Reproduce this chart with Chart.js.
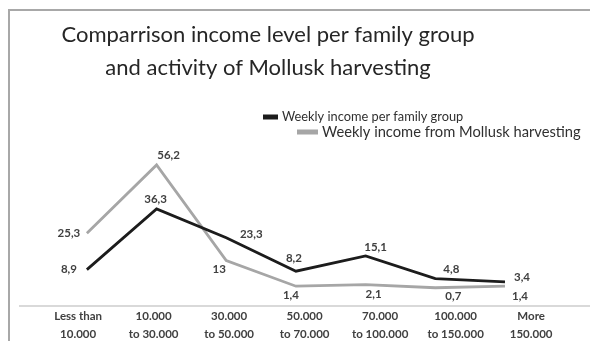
<!DOCTYPE html>
<html>
<head>
<meta charset="utf-8">
<script src="https://cdn.jsdelivr.net/npm/chart.js@4.4.1/dist/chart.umd.min.js"></script>
<style>
  html, body { margin: 0; padding: 0; background: #fff; }
  #wrap { position: relative; width: 590px; height: 341px; overflow: hidden; }
  #frame { position: absolute; left: 8px; top: 9px; width: 700px; height: 400px;
           border-top: 2px solid #a8a8a8; border-left: 2px solid #a8a8a8; }
  #incomeChart { position: absolute; left: 0; top: 0; }
</style>
</head>
<body>
<div id="wrap">
  <div id="frame"></div>
  <canvas id="incomeChart" width="590" height="341"></canvas>
</div>
<script>
const categories = [
  ['Less than', '10.000'],
  ['10.000', 'to 30.000'],
  ['30.000', 'to 50.000'],
  ['50.000', 'to 70.000'],
  ['70.000', 'to 100.000'],
  ['100.000', 'to 150.000'],
  ['More', '150.000']
];
const familyIncome = [8.9, 36.3, 23.3, 8.2, 15.1, 4.8, 3.4];
const molluskIncome = [25.3, 56.2, 13, 1.4, 2.1, 0.7, 1.4];
const seriesNames = ['Weekly income per family group', 'Weekly income from Mollusk harvesting'];

// label offsets (dx, dy) from each point
const familyLabelPos = [[-18, 0], [-1, -10], [25, -3], [-2, -13], [10, -9], [16, -9], [17, -4]];
const molluskLabelPos = [[-18, 0], [12, -10], [-7, 9], [-5, 9], [8, 10], [18, 9], [15, 10]];

function toPoints(arr) {
  return arr.map((v, i) => ({ x: i, y: v }));
}

const valueLabels = {
  id: 'valueLabels',
  afterDatasetsDraw(chart, args, opts) {
    const ctx = chart.ctx;
    ctx.save();
    ctx.font = 'bold 11.5px Lato';
    ctx.fillStyle = '#404040';
    ctx.textAlign = 'center';
    ctx.textBaseline = 'middle';
    chart.data.datasets.forEach((ds, di) => {
      const offs = opts.offsets[di];
      chart.getDatasetMeta(di).data.forEach((pt, i) => {
        const txt = String(ds.data[i].y).replace('.', ',');
        ctx.fillText(txt, pt.x + offs[i][0], pt.y + offs[i][1]);
      });
    });
    ctx.restore();
  }
};

// two-row legend, each row placed on its own
const sideLegend = {
  id: 'sideLegend',
  afterDraw(chart, args, opts) {
    const ctx = chart.ctx;
    ctx.save();
    ctx.textBaseline = 'middle';
    ctx.textAlign = 'left';
    opts.items.forEach((it, i) => {
      const ds = chart.data.datasets[i];
      ctx.fillStyle = ds.borderColor;
      ctx.fillRect(it.x, it.y - it.boxH / 2, it.boxW, it.boxH);
      ctx.fillStyle = '#303030';
      ctx.font = it.size + 'px Lato';
      ctx.fillText(ds.label, it.x + it.boxW + 4, it.y);
    });
    ctx.restore();
  }
};

// title sits a little left of the plot centre
const titleShift = {
  id: 'titleShift',
  afterLayout(chart) {
    const t = chart.titleBlock;
    if (t) { t.left = 0; t.right = 536; }
  }
};

new Chart(document.getElementById('incomeChart'), {
  type: 'line',
  data: {
    datasets: [{
      label: seriesNames[0],
      data: toPoints(familyIncome),
      borderColor: '#1c1c1c',
      borderWidth: 2.8,
      pointRadius: 0,
      tension: 0,
      xAxisID: 'x'
    }, {
      label: seriesNames[1],
      data: toPoints(molluskIncome),
      borderColor: '#a6a6a6',
      borderWidth: 2.8,
      pointRadius: 0,
      tension: 0,
      xAxisID: 'x'
    }]
  },
  options: {
    responsive: false,
    animation: false,
    layout: { padding: { left: 20, right: 0, top: 0, bottom: -3 } },
    scales: {
      x: {
        type: 'linear',
        display: false,
        min: -0.96,
        max: 7.22
      },
      cat: {
        type: 'linear',
        position: 'bottom',
        min: -0.77,
        max: 6.78,
        afterBuildTicks: s => { s.ticks = categories.map((c, i) => ({ value: i })); },
        grid: { display: false, drawTicks: false },
        border: { display: true, color: '#d9d9d9', width: 2 },
        ticks: {
          autoSkip: false,
          maxRotation: 0,
          padding: 1,
          color: '#404040',
          font: { family: 'Lato', size: 11.5, weight: 'bold', lineHeight: 1.55 },
          callback: v => categories[v]
        }
      },
      y: {
        display: false,
        min: -7.7,
        max: 86
      }
    },
    plugins: {
      title: {
        display: true,
        text: ['Comparrison income level per family group', 'and activity of Mollusk harvesting'],
        color: '#262626',
        font: { family: 'Lato', size: 22, weight: 'normal', lineHeight: 1.5 },
        padding: { top: 18, bottom: 15 }
      },
      legend: { display: false },
      tooltip: { enabled: false },
      valueLabels: { offsets: [familyLabelPos, molluskLabelPos] },
      sideLegend: {
        items: [
          { x: 263, y: 117, boxW: 15, boxH: 5, size: 12.8 },
          { x: 297, y: 132, boxW: 21, boxH: 5, size: 14.7 }
        ]
      }
    }
  },
  plugins: [valueLabels, sideLegend, titleShift]
});
</script>
</body>
</html>
